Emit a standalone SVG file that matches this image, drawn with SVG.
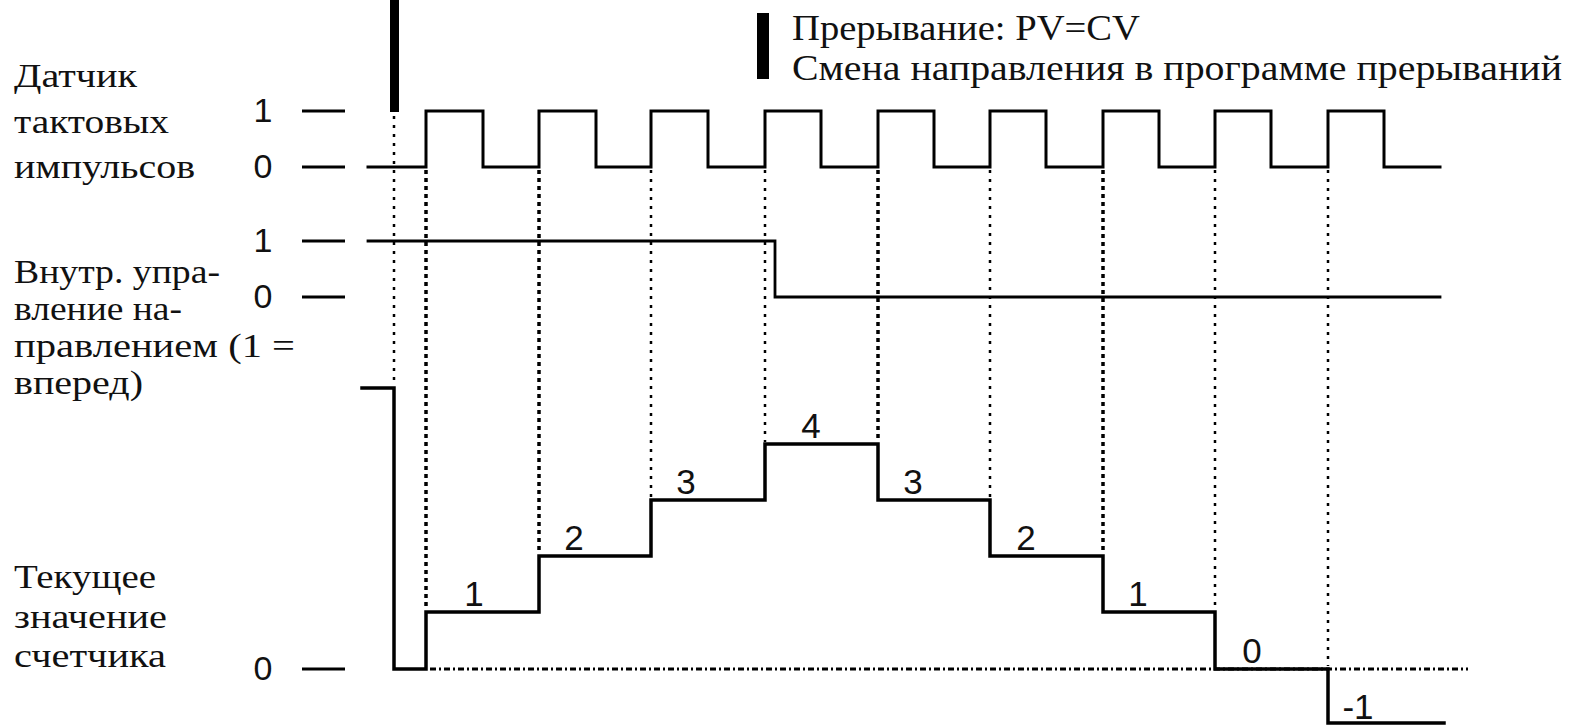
<svg xmlns="http://www.w3.org/2000/svg" width="1573" height="727" viewBox="0 0 1573 727">
<style>
.lbl{font-family:"Liberation Serif","DejaVu Serif","Times New Roman",serif;font-size:33px;fill:#111}
.hdr{font-family:"Liberation Serif","DejaVu Serif","Times New Roman",serif;font-size:35px;fill:#111}
.ax{font-family:"Liberation Sans",Arial,sans-serif;font-size:34px;fill:#111;text-anchor:middle}
.num{font-family:"Liberation Sans",Arial,sans-serif;font-size:35px;fill:#111;text-anchor:middle}
.sig{fill:none;stroke:#000;stroke-width:3;stroke-linejoin:miter;stroke-linecap:square}
.tick{stroke:#000;stroke-width:3}
.dotA{stroke:#000;stroke-width:3.5;stroke-dasharray:4 4;fill:none}
.dotB{stroke:#000;stroke-width:2.5;stroke-dasharray:3 6;fill:none}
.dd{stroke:#000;stroke-width:3;stroke-dasharray:6 3 2 3;fill:none}
</style>
<rect width="1573" height="727" fill="#fff"/>

<g id="legend">
<rect x="757" y="13" width="12" height="66" fill="#000"/>
<text class="hdr" x="792" y="40" textLength="348" lengthAdjust="spacingAndGlyphs">Прерывание: PV=CV</text>
<text class="hdr" x="792" y="80" textLength="770" lengthAdjust="spacingAndGlyphs">Смена направления в программе прерываний</text>
</g>

<g id="label-clock">
<text class="lbl" x="14" y="87" textLength="123" lengthAdjust="spacingAndGlyphs">Датчик</text>
<text class="lbl" x="14" y="133" textLength="155" lengthAdjust="spacingAndGlyphs">тактовых</text>
<text class="lbl" x="14" y="178" textLength="181" lengthAdjust="spacingAndGlyphs">импульсов</text>
</g>
<g id="label-dir">
<text class="lbl" x="14" y="283" textLength="206" lengthAdjust="spacingAndGlyphs">Внутр. упра-</text>
<text class="lbl" x="14" y="320" textLength="168" lengthAdjust="spacingAndGlyphs">вление на-</text>
<text class="lbl" x="14" y="357" textLength="281" lengthAdjust="spacingAndGlyphs">правлением (1 =</text>
<text class="lbl" x="14" y="394" textLength="129" lengthAdjust="spacingAndGlyphs">вперед)</text>
</g>
<g id="label-counter">
<text class="lbl" x="14" y="588" textLength="142" lengthAdjust="spacingAndGlyphs">Текущее</text>
<text class="lbl" x="14" y="628" textLength="153" lengthAdjust="spacingAndGlyphs">значение</text>
<text class="lbl" x="14" y="667" textLength="152" lengthAdjust="spacingAndGlyphs">счетчика</text>
</g>

<g id="axes">
<text class="ax" x="263" y="122">1</text>
<line class="tick" x1="302" y1="111" x2="345" y2="111"/>
<text class="ax" x="263" y="178">0</text>
<line class="tick" x1="302" y1="167" x2="345" y2="167"/>
<text class="ax" x="263" y="252">1</text>
<line class="tick" x1="302" y1="241" x2="345" y2="241"/>
<text class="ax" x="263" y="308">0</text>
<line class="tick" x1="302" y1="297" x2="345" y2="297"/>
<text class="ax" x="263" y="680">0</text>
<line class="tick" x1="302" y1="669" x2="345" y2="669"/>
</g>

<g id="connectors">
<rect x="390" y="0" width="9" height="112" fill="#000"/>
<line class="dotB" x1="394" y1="116" x2="394" y2="386"/>
<line class="dotA" x1="426" y1="170" x2="426" y2="610"/>
<line class="dotA" x1="539" y1="170" x2="539" y2="554"/>
<line class="dotB" x1="651" y1="170" x2="651" y2="498"/>
<line class="dotB" x1="765" y1="170" x2="765" y2="442"/>
<line class="dotA" x1="878" y1="170" x2="878" y2="442"/>
<line class="dotB" x1="990" y1="170" x2="990" y2="498"/>
<line class="dotA" x1="1103" y1="170" x2="1103" y2="554"/>
<line class="dotB" x1="1215" y1="170" x2="1215" y2="610"/>
<line class="dotB" x1="1328" y1="170" x2="1328" y2="666"/>
<line class="dd" x1="430" y1="669" x2="1468" y2="669"/>
</g>

<g id="clock">
<path class="sig" d="M368,167 H426 V111 H483 V167 H539 V111 H596 V167 H651 V111 H708 V167 H765 V111 H821 V167 H878 V111 H934 V167 H990 V111 H1046 V167 H1103 V111 H1159 V167 H1215 V111 H1271 V167 H1328 V111 H1384 V167 H1440"/>
</g>

<g id="direction">
<path class="sig" style="stroke-width:2.8" d="M368,241 H775 V297 H1440"/>
</g>

<g id="counter">
<path class="sig" style="stroke-width:3.5" d="M362,388 H394 V669 H426 V612 H539 V556 H651 V500 H765 V444 H878 V500 H990 V556 H1103 V612 H1215 V669 H1328 V723 H1444"/>
<text class="num" x="474" y="606">1</text>
<text class="num" x="574" y="550">2</text>
<text class="num" x="686" y="494">3</text>
<text class="num" x="811" y="438">4</text>
<text class="num" x="913" y="494">3</text>
<text class="num" x="1026" y="550">2</text>
<text class="num" x="1138" y="606">1</text>
<text class="num" x="1252" y="663">0</text>
<text class="num" x="1358" y="719">-1</text>
</g>
</svg>
